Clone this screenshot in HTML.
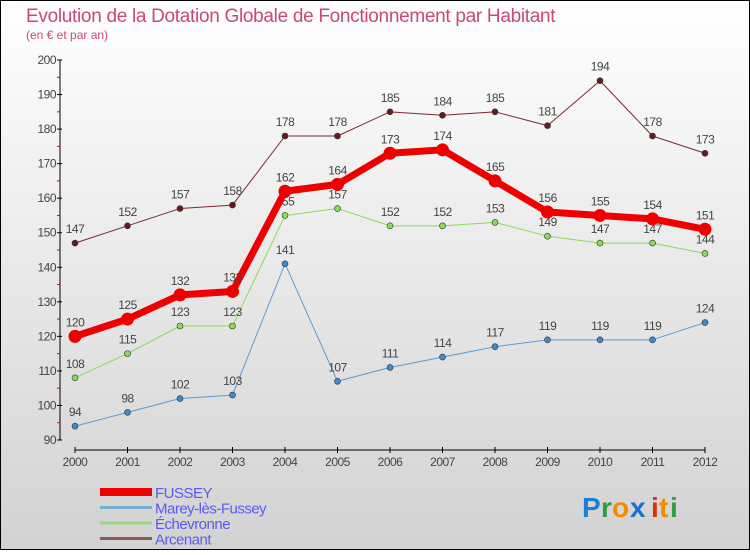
<!DOCTYPE html>
<html><head><meta charset="utf-8">
<style>
html,body{margin:0;padding:0;}
body{width:750px;height:550px;overflow:hidden;font-family:"Liberation Sans",sans-serif;}
</style></head>
<body>
<svg id="chart" width="750" height="550" xmlns="http://www.w3.org/2000/svg">
<defs>
<linearGradient id="bg" x1="0" y1="0" x2="0" y2="1">
<stop offset="0" stop-color="#ffffff"/><stop offset="1" stop-color="#d2d2d2"/>
</linearGradient>
</defs>
<rect x="0.5" y="0.5" width="749" height="549" fill="url(#bg)" stroke="#000"/>
<text x="26" y="22" font-size="19" fill="#c8487a" letter-spacing="-0.3">Evolution de la Dotation Globale de Fonctionnement par Habitant</text>
<text x="26" y="39" font-size="12" fill="#c8487a">(en € et par an)</text>
<g id="axes"></g>
<g id="series"></g>
<g id="legend"></g>
<g font-size="28" font-weight="bold">
<text x="582" y="517" fill="#1a7fd4">P</text><text x="601" y="517" fill="#2aa040">r</text><text x="612" y="517" fill="#f58a00">o</text><text x="630" y="517" fill="#1a6fd0">x</text><text x="651" y="517" fill="#e03010">i</text><text x="659" y="517" fill="#f58a00">t</text><text x="670" y="517" fill="#2aa040">i</text>
</g>
</svg>
<script>
const years=[2000,2001,2002,2003,2004,2005,2006,2007,2008,2009,2010,2011,2012];
const yTicks=[90,100,110,120,130,140,150,160,170,180,190,200];
const fussey=[120,125,132,133,162,164,173,174,165,156,155,154,151];
const marey=[94,98,102,103,141,107,111,114,117,119,119,119,124];
const echev=[108,115,123,123,155,157,152,152,153,149,147,147,144];
const arcen=[147,152,157,158,178,178,185,184,185,181,194,178,173];
const NS="http://www.w3.org/2000/svg";
const xS=i=>75+i*52.5;
const yS=v=>440-(v-90)*380/110;
function mk(tag,attrs,parent){const e=document.createElementNS(NS,tag);for(const k in attrs)e.setAttribute(k,attrs[k]);parent.appendChild(e);return e;}
const axes=document.getElementById('axes');
const ya=mk('line',{x1:60,y1:60,x2:60,y2:440,stroke:'#000','stroke-width':1},axes);


yTicks.forEach(v=>{
 const t=mk('line',{x1:57,x2:62,y1:yS(v),y2:yS(v),stroke:'#000'},axes);
 
 
 if(v<200){const m=mk('line',{x1:57,x2:60,y1:yS(v+5),y2:yS(v+5),stroke:'#e00'},axes);
 
 }
 const l=mk('text',{x:56,y:yS(v)+4,'text-anchor':'end','font-size':12,fill:'#444','letter-spacing':'-0.5'},axes);
 l.textContent=v;
 
 
});
const xa=mk('line',{x1:75,y1:450,x2:705,y2:450,stroke:'#000'},axes);


years.forEach((y,i)=>{
 const t=mk('line',{x1:xS(i),x2:xS(i),y1:447,y2:453,stroke:'#000'},axes);
 
 
 const l=mk('text',{x:xS(i),y:466,'text-anchor':'middle','font-size':12,fill:'#444','letter-spacing':'-0.5'},axes);
 l.textContent=y;
 
 
});
const seriesG=document.getElementById('series');
function drawSeries(name,vals,color,dotFill,w,r){
 const g=mk('g',{},seriesG);
 
 
 const p=mk('polyline',{points:vals.map((v,i)=>xS(i)+','+yS(v)).join(' '),fill:'none',stroke:color,'stroke-width':w,'stroke-linejoin':'round'},g);
 
 
 vals.forEach((v,i)=>{
  const c=mk('circle',{cx:xS(i),cy:yS(v),r:r,fill:dotFill,stroke:'#333','stroke-width':r>4?0:0.6},g);
  
  
  const t=mk('text',{x:xS(i),y:yS(v)-10,'text-anchor':'middle','font-size':12,fill:'#444','letter-spacing':'-0.5'},g);
  t.textContent=v;
  
  
 });
}
drawSeries('arcenant',arcen,'#7a2830','#6a1820',1,3);
drawSeries('echevronne',echev,'#88dd55','#88dd55',1,3);
drawSeries('marey',marey,'#5b9bd5','#3b8bd0',1,3);
drawSeries('fussey',fussey,'#ee0000','#ee0000',7,6.5);
const legend=document.getElementById('legend');
const items=[['FUSSEY','#ee0000',8],['Marey-lès-Fussey','#7aaed0',3],['Échevronne','#99d880',3],['Arcenant','#8a5a5a',3]];
items.forEach((it,k)=>{
 const y=492+k*15.5;
 const l=mk('line',{x1:100,x2:152,y1:y,y2:y,stroke:it[1],'stroke-width':it[2]},legend);
 
 
 const t=mk('text',{x:155,y:y+6,'font-size':15,fill:'#5a5af0','letter-spacing':'-0.5'},legend);
 t.textContent=it[0];
 
 
});
</script>
</body></html>
